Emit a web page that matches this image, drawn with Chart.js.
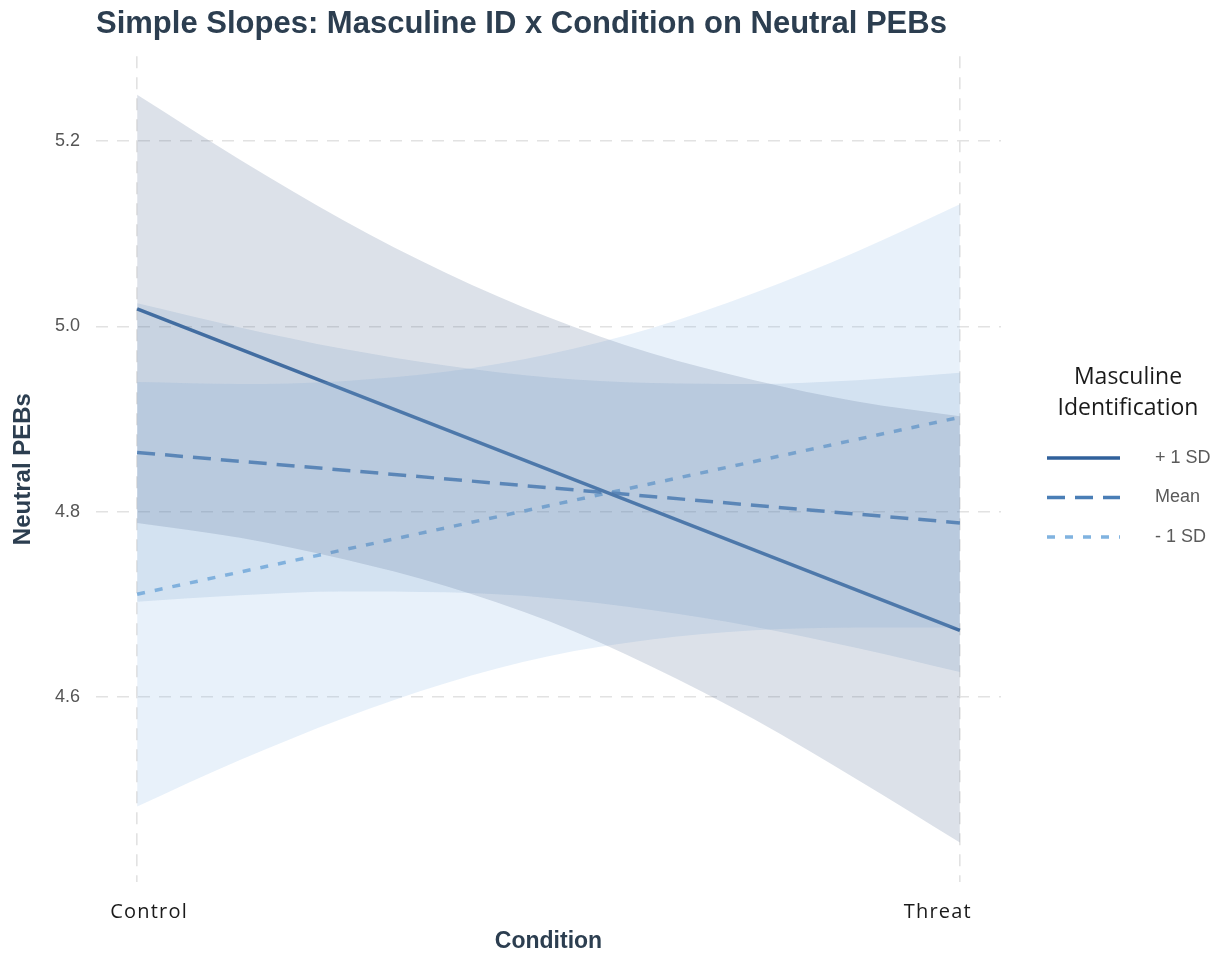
<!DOCTYPE html>
<html>
<head>
<meta charset="utf-8">
<script src="https://cdn.jsdelivr.net/npm/chart.js@4/dist/chart.umd.min.js"></script>
<style>
  html, body { margin: 0; padding: 0; background: #ffffff; }
  #wrap { width: 1223px; height: 955px; }
</style>
</head>
<body>
<div id="wrap"><canvas id="c" width="1223" height="955"></canvas></div>
<script>
// Conditions on the x axis (0 = Control, 1 = Threat)
const conditions = ['Control', 'Threat'];
const conditionPos = [0, 1];

// Masculine identification levels
const groups = ['+ 1 SD', 'Mean', '- 1 SD'];

// Predicted Neutral PEBs at Control and Threat
const plusLine  = [5.019, 4.672];
const meanLine  = [4.864, 4.788];
const minusLine = [4.711, 4.902];

// Confidence band edges along the condition axis
const bandX = [0, 0.125, 0.25, 0.375, 0.5, 0.625, 0.75, 0.875, 1];
const plusUpper  = [5.250, 5.180, 5.115, 5.058, 5.010, 4.971, 4.942, 4.919, 4.903];
const plusLower  = [4.788, 4.772, 4.749, 4.720, 4.682, 4.633, 4.576, 4.511, 4.443];
const meanUpper  = [5.025, 4.999, 4.976, 4.958, 4.945, 4.939, 4.938, 4.942, 4.950];
const meanLower  = [4.703, 4.710, 4.714, 4.713, 4.707, 4.694, 4.676, 4.653, 4.627];
const minusUpper = [4.940, 4.938, 4.941, 4.951, 4.970, 4.998, 5.036, 5.081, 5.132];
const minusLower = [4.482, 4.532, 4.577, 4.615, 4.644, 4.662, 4.672, 4.675, 4.675];

// Y axis ticks
const yTicks = [4.6, 4.8, 5.0, 5.2];

const pts = (xs, ys) => xs.map((x, i) => ({ x: x, y: ys[i] }));

const lineColors = ['#30619b', '#4a7eb6', '#80b3e0'];
const lineDashes = [[], [18, 10], [8, 10]];
const bandFills = ['rgba(80,105,145,0.2)', 'rgba(124,167,205,0.2)', 'rgba(140,185,230,0.2)'];

function band(upper, lower, fillColor) {
  const common = { borderWidth: 0, pointRadius: 0, cubicInterpolationMode: 'monotone' };
  return [
    Object.assign({ data: pts(bandX, upper), fill: '+1', backgroundColor: fillColor }, common),
    Object.assign({ data: pts(bandX, lower), fill: false }, common)
  ];
}

function slope(label, values, idx) {
  return {
    label: label,
    data: pts(conditionPos, values),
    borderColor: lineColors[idx],
    borderDash: lineDashes[idx],
    borderWidth: 3.5,
    borderCapStyle: 'butt',
    pointRadius: 0,
    fill: false,
    showInKey: true
  };
}

// Legend drawn in the right margin from the slope datasets
const keyPlugin = {
  id: 'sideKey',
  afterDraw(chart, args, opts) {
    const ctx = chart.ctx;
    ctx.save();
    ctx.fillStyle = '#1a1a1a';
    ctx.font = '23px "Open Sans"';
    ctx.textAlign = 'center';
    ctx.textBaseline = 'middle';
    opts.title.forEach((t, i) => ctx.fillText(t, opts.titleX, opts.titleY + i * opts.titleGap));
    const items = chart.data.datasets.filter(d => d.showInKey);
    items.forEach((d, i) => {
      const y = opts.itemY + i * opts.itemGap;
      ctx.strokeStyle = d.borderColor;
      ctx.lineWidth = d.borderWidth;
      ctx.setLineDash(d.borderDash);
      ctx.lineCap = 'butt';
      ctx.beginPath();
      ctx.moveTo(opts.lineX0, y);
      ctx.lineTo(opts.lineX1, y);
      ctx.stroke();
      ctx.setLineDash([]);
      ctx.fillStyle = '#5a5a5a';
      ctx.font = '18px "Liberation Sans", Arial, sans-serif';
      ctx.textAlign = 'left';
      ctx.fillText(d.label, opts.labelX, y);
    });
    ctx.restore();
  }
};

// Category labels under the two condition gridlines
const conditionLabels = {
  id: 'conditionLabels',
  afterDraw(chart, args, opts) {
    const ctx = chart.ctx;
    const xs = chart.scales.x;
    ctx.save();
    ctx.fillStyle = '#1a1a1a';
    ctx.font = '20px "Open Sans"';
    ctx.letterSpacing = '1.2px';
    ctx.textAlign = 'center';
    ctx.textBaseline = 'middle';
    conditions.forEach((c, i) => {
      ctx.fillText(c, xs.getPixelForValue(conditionPos[i]) + opts.shift[i], opts.y);
    });
    ctx.restore();
  }
};

const gridStyle = {
  color: '#e2e2e2',
  lineWidth: 1.6,
  drawTicks: false
};

new Chart(document.getElementById('c'), {
  type: 'line',
  data: {
    datasets: [
      ...band(plusUpper, plusLower, bandFills[0]),
      ...band(meanUpper, meanLower, bandFills[1]),
      ...band(minusUpper, minusLower, bandFills[2]),
      slope(groups[0], plusLine, 0),
      slope(groups[1], meanLine, 1),
      slope(groups[2], minusLine, 2)
    ]
  },
  options: {
    responsive: false,
    animation: false,
    layout: { padding: { left: 0, right: 222, top: 0, bottom: 0 } },
    scales: {
      x: {
        type: 'linear',
        min: -0.05,
        max: 1.05,
        afterBuildTicks: s => { s.ticks = conditionPos.map(v => ({ value: v })); },
        afterFit: s => { s.height = 73; },
        ticks: { display: false },
        grid: Object.assign({}, gridStyle),
        border: { display: false, dash: [12, 9] },
        title: {
          display: true,
          text: 'Condition',
          color: '#2c3e50',
          font: { family: '"Liberation Sans", Arial, sans-serif', size: 23, weight: 'bold' },
          padding: { top: 0, bottom: 0 }
        }
      },
      y: {
        type: 'linear',
        min: 4.4004,
        max: 5.2917,
        afterBuildTicks: s => { s.ticks = yTicks.map(v => ({ value: v })); },
        afterFit: s => { s.width = 96; },
        ticks: {
          callback: v => v.toFixed(1),
          color: '#555555',
          padding: 16,
          font: { family: '"Liberation Sans", Arial, sans-serif', size: 18 }
        },
        grid: Object.assign({}, gridStyle),
        border: { display: false, dash: [12, 9] },
        title: {
          display: true,
          text: 'Neutral PEBs',
          color: '#2c3e50',
          font: { family: '"Liberation Sans", Arial, sans-serif', size: 24, weight: 'bold' },
          padding: { top: 9, bottom: 0 }
        }
      }
    },
    plugins: {
      legend: { display: false },
      tooltip: { enabled: false },
      title: {
        display: true,
        fullSize: false,
        align: 'start',
        text: 'Simple Slopes: Masculine ID x Condition on Neutral PEBs',
        color: '#2c3e50',
        font: { family: '"Liberation Sans", Arial, sans-serif', size: 31, weight: 'bold' },
        padding: { top: 6, bottom: 13 }
      },
      sideKey: {
        title: ['Masculine', 'Identification'],
        titleX: 1128, titleY: 377, titleGap: 31,
        itemY: 458, itemGap: 39.5,
        lineX0: 1047, lineX1: 1120, labelX: 1155
      },
      conditionLabels: { y: 912, shift: [12, -22] }
    }
  },
  plugins: [keyPlugin, conditionLabels]
});
</script>
</body>
</html>
